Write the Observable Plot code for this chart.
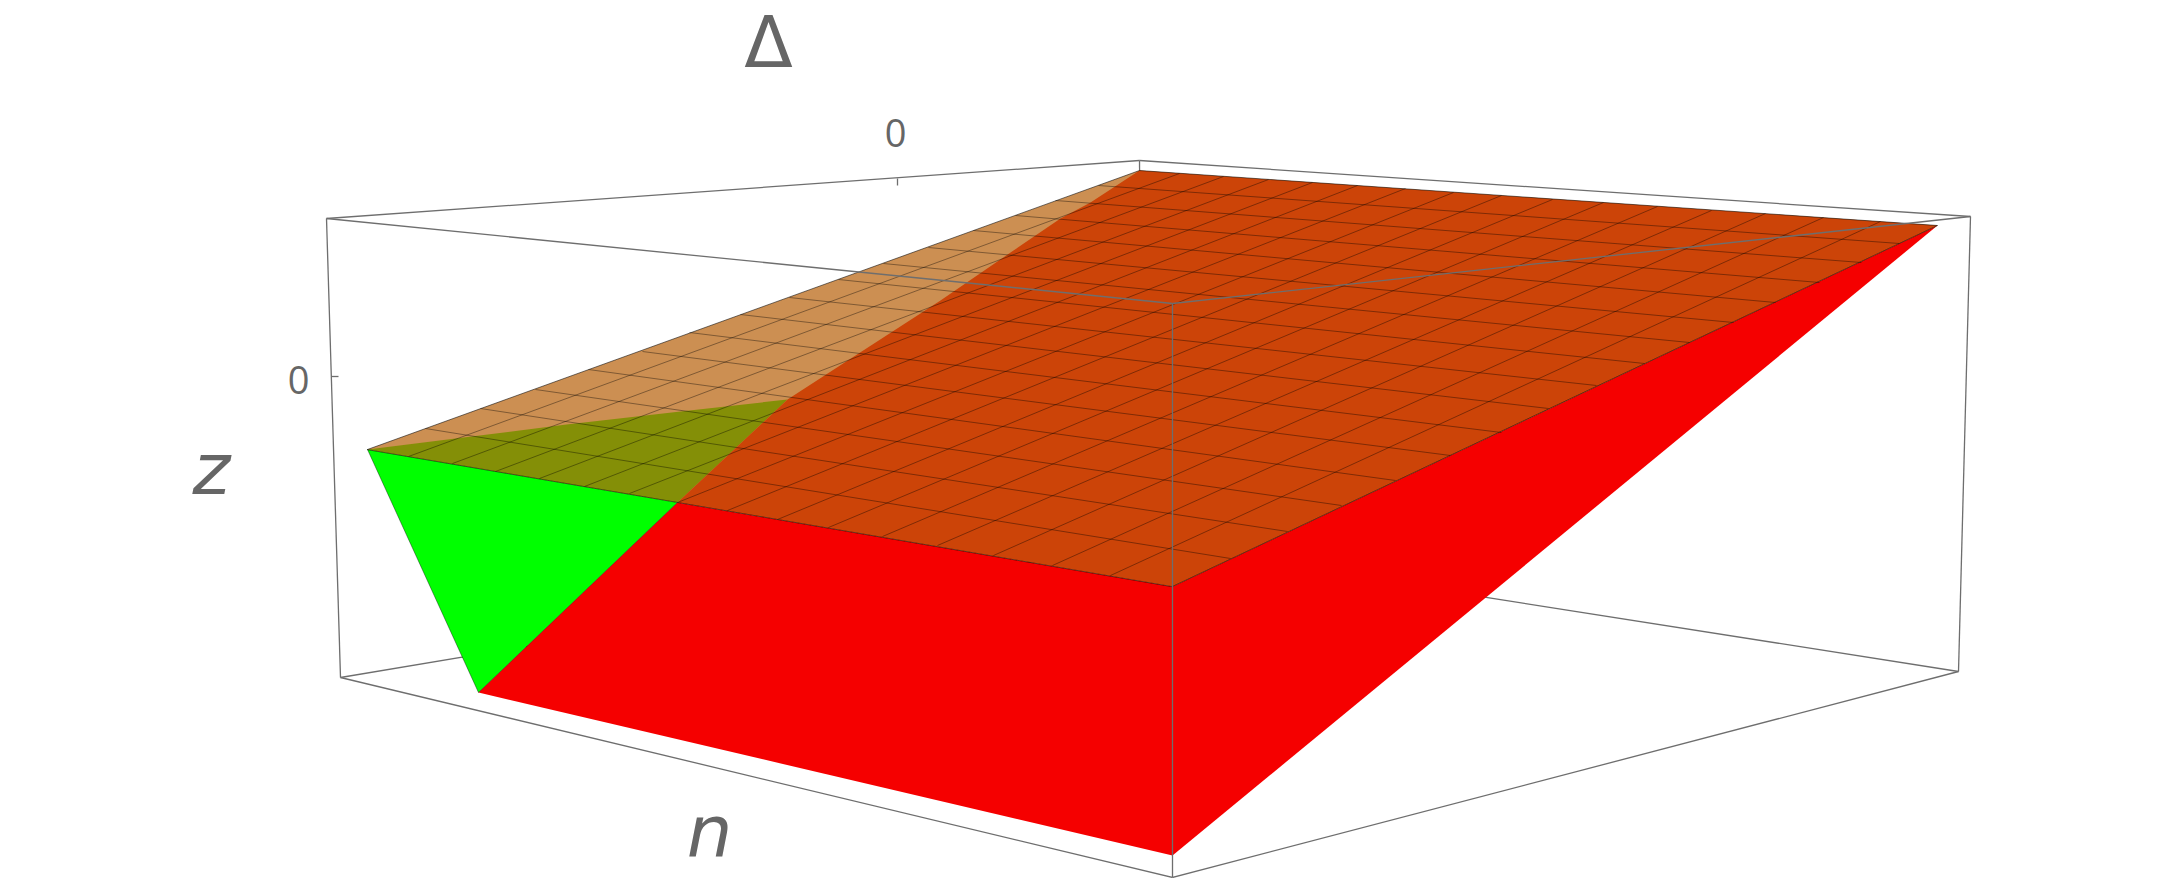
<!DOCTYPE html>
<html><head><meta charset="utf-8">
<style>html,body{margin:0;padding:0;background:#fff}svg{display:block}</style>
<script src="https://cdn.jsdelivr.net/npm/d3@7"></script>
<script src="https://cdn.jsdelivr.net/npm/@observablehq/plot@0.6"></script>
</head><body><div id="chart"></div>
<script>
// Picture-space readings of the 3D view (x to the right, y downward)
const boxBackX1 = [340, 1958, 1139];
const boxBackY1 = [677, 671, 160];
const boxBackX2 = [1142, 1142, 1142];
const boxBackY2 = [543, 543, 543];

const boxOuterX1 = [326, 1139, 326, 1970, 340, 1172, 897, 331];
const boxOuterY1 = [218, 160, 218, 216, 677, 877, 178, 376];
const boxOuterX2 = [1139, 1970, 340, 1958, 1172, 1958, 897, 338];
const boxOuterY2 = [160, 216, 677, 671, 877, 671, 185, 376];

const boxFrontX1 = [326, 1970, 1172];
const boxFrontY1 = [218, 216, 303];
const boxFrontX2 = [1172, 1172, 1172];
const boxFrontY2 = [303, 303, 877];

const greenFaceX = [367, 677, 478];
const greenFaceY = [449, 502, 692];
const redFrontX = [677, 478, 1172, 1172];
const redFrontY = [502, 692, 855, 586];
const redSideX = [1172, 1172, 1937];
const redSideY = [586, 855, 225];
const wallSeamX1 = [367, 677];
const wallSeamY1 = [449, 502];
const wallSeamX2 = [478, 478];
const wallSeamY2 = [692, 692];

const sheetX = [367, 1139, 1937, 1172];
const sheetY = [449, 170, 225, 586];
const oliveX = [367, 463, 566, 680, 787, 677];
const oliveY = [449, 437, 424, 411, 399, 502];
const darkX = [677, 787, 940, 1013, 1060, 1090, 1139, 1937, 1172];
const darkY = [502, 399, 300, 250, 218, 202, 170, 225, 586];

const meshFrontLeftX = [408, 452, 495, 539, 584, 629, 677, 727, 777, 828, 882, 937, 993, 1052, 1110];
const meshFrontLeftY = [456, 463, 471, 478, 486, 493, 502, 510, 519, 527, 536, 545, 555, 565, 575];
const meshBackRightX = [1179, 1223, 1268, 1312, 1357, 1405, 1453, 1501, 1552, 1603, 1657, 1711, 1765, 1823, 1880];
const meshBackRightY = [173, 176, 179, 182, 185, 188, 192, 195, 199, 202, 206, 210, 213, 217, 221];
const meshBackLeftX = [425, 480, 535, 588, 642, 689, 740, 789, 838, 883, 928, 973, 1015, 1055, 1098];
const meshBackLeftY = [428, 408, 389, 369, 351, 332, 314, 297, 279, 263, 247, 230, 215, 200, 185];
const meshFrontRightX = [1230, 1287, 1341, 1395, 1450, 1501, 1548, 1596, 1644, 1689, 1733, 1775, 1819, 1861, 1899];
const meshFrontRightY = [558, 531, 505, 480, 455, 432, 408, 385, 363, 342, 322, 302, 282, 262, 243];

const uprightLabel = ["Δ"];
const uprightLabelX = [768];
const uprightLabelY = [44];
const italicLabel = ["z", "n"];
const italicLabelX = [211, 709];
const italicLabelY = [470, 832];
const tickText = ["0", "0"];
const tickX = [895, 298];
const tickY = [134, 381];

const idx = a => a.map((_, i) => i);
const poly = (xs, ys, fill) =>
  Plot.line(idx(xs), {x: i => xs[i], y: i => ys[i], fill, stroke: "none", curve: "linear-closed"});
const links = (x1, y1, x2, y2, o) =>
  Plot.link(idx(x1), {x1: i => x1[i], y1: i => y1[i], x2: i => x2[i], y2: i => y2[i], ...o});
const edge = {stroke: "#6e6e6e", strokeWidth: 1.3};
const mesh = {stroke: "#000", strokeOpacity: 0.38, strokeWidth: 1};
const outline = {stroke: "#000", strokeOpacity: 0.55, strokeWidth: 1, fill: "none", curve: "linear-closed"};
const texts = (labels, xs, ys, o) =>
  Plot.text(idx(labels), {x: i => xs[i], y: i => ys[i], text: i => labels[i], fill: "#666",
    textAnchor: "middle", lineAnchor: "middle", ...o});

const chart = Plot.plot({
  width: 2165, height: 878,
  margin: 0,
  x: {domain: [0, 2165], range: [0, 2165], axis: null},
  y: {domain: [0, 878], range: [0, 878], axis: null},
  style: {background: "#fff"},
  marks: [
    links(boxBackX1, boxBackY1, boxBackX2, boxBackY2, edge),
    links(boxOuterX1, boxOuterY1, boxOuterX2, boxOuterY2, edge),
    poly(greenFaceX, greenFaceY, "#00ff00"),
    poly(redFrontX, redFrontY, "#f50000"),
    poly(redSideX, redSideY, "#f50000"),
    links(wallSeamX1, wallSeamY1, wallSeamX2, wallSeamY2, {stroke: "#000", strokeOpacity: 0.4, strokeWidth: 1}),
    poly(sheetX, sheetY, "#cc8f52"),
    poly(oliveX, oliveY, "#848f07"),
    poly(darkX, darkY, "#cc4408"),
    links(meshFrontLeftX, meshFrontLeftY, meshBackRightX, meshBackRightY, mesh),
    links(meshBackLeftX, meshBackLeftY, meshFrontRightX, meshFrontRightY, mesh),
    Plot.line(idx(sheetX), {x: i => sheetX[i], y: i => sheetY[i], ...outline}),
    links(boxFrontX1, boxFrontY1, boxFrontX2, boxFrontY2, edge),
    texts(uprightLabel, uprightLabelX, uprightLabelY, {fontSize: 71, fontFamily: "DejaVu Sans"}),
    texts(italicLabel, italicLabelX, italicLabelY, {fontSize: 72, fontFamily: "DejaVu Sans", fontStyle: "italic"}),
    texts(tickText, tickX, tickY, {fontSize: 38, fontFamily: "Open Sans"})
  ]
});
document.getElementById("chart").append(chart);
</script>
</body></html>
